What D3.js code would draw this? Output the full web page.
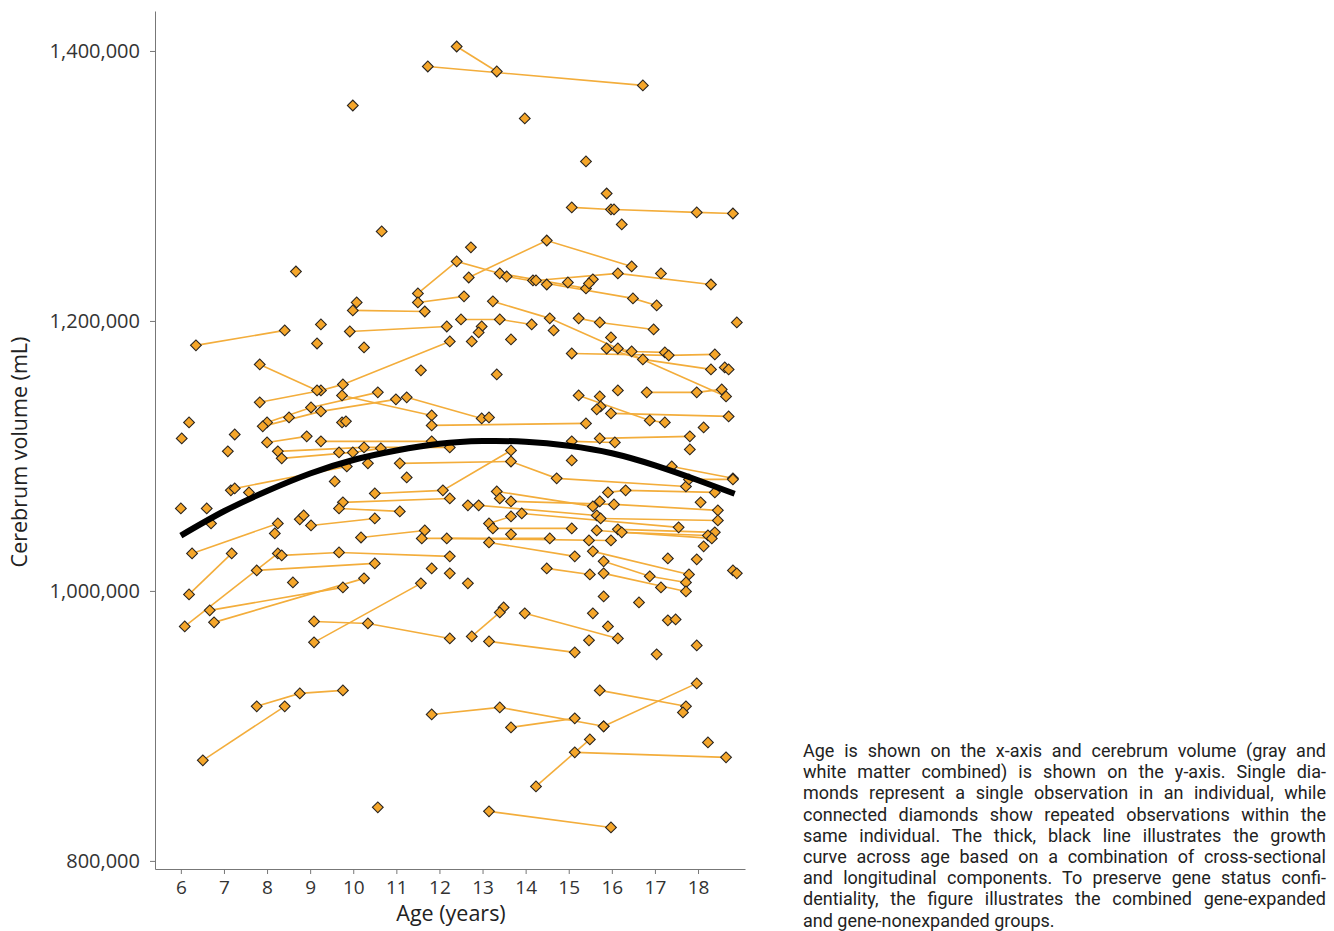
<!DOCTYPE html>
<html>
<head>
<meta charset="utf-8">
<script src="https://cdnjs.cloudflare.com/ajax/libs/d3/7.8.5/d3.min.js"></script>
<style>
  body { margin: 0; background: #fff; }
  svg { display: block; font-family: "Open Sans", sans-serif; }
</style>
</head>
<body>
<svg id="chart" width="1334" height="931"></svg>
<script>
// axis ticks
var xTicks = [6, 7, 8, 9, 10, 11, 12, 13, 14, 15, 16, 17, 18];
var yTicks = [800000, 1000000, 1200000, 1400000];

// one entry per individual: ages (years) and cerebrum volumes
var subjectAges = [
  [11.73,16.72],[12.40,13.33],[9.99],[13.98],[15.40],[15.88],[15.07,15.98],[16.05,17.97,18.81],[16.23],[10.66],
  [8.67],[12.73],[12.68,14.49,16.46],[11.50,12.40,13.40,15.40],[13.56,16.49,17.04],[14.17],[14.24,16.14,18.30],[14.49],[14.98],[15.56],
  [15.47],[17.14],[11.50,12.57],[10.08],[9.99,11.66],[9.25],[6.35,8.41],[9.92,12.17],[12.50,13.40,14.14],[15.23,15.72,16.97],
  [13.24,14.56,18.65],[14.65],[12.98],[12.91],[12.75],[13.66],[18.90],[7.83,9.25,9.76,12.24],[7.83,9.16],[9.16],
  [10.25],[11.57],[9.74,11.82],[8.00,9.02,10.57],[7.90,9.25,10.99],[11.24,12.98],[13.15],[6.19],[6.02],[7.25],
  [7.09],[8.51],[9.74],[9.83],[11.82,15.40],[8.00,8.92],[9.25,11.82],[8.25,10.25,12.24],[8.34,9.99,10.64],[9.67],
  [7.16],[7.25,9.85],[10.34],[11.08,13.66,14.72,17.72],[9.57],[11.24],[15.98],[15.88,16.72,18.30],[16.14,16.46,17.23],[15.07,17.32,18.39],
  [18.62],[18.71],[13.33],[16.14],[16.81,17.97,18.55],[15.23,16.88,17.23],[15.72],[15.74],[15.65],[15.98,18.71],
  [18.13],[15.72,17.81],[15.07,16.07],[17.81],[9.02,10.50],[15.07],[17.39,18.81],[17.79,18.81],[13.33,15.56],[13.66,16.05,18.46],
  [9.76,12.24],[12.66],[12.91,15.65],[15.91,16.32,18.39],[18.06],[15.74,18.46],[13.15,13.66],[13.91,17.55],[13.24,15.07],[16.14,18.39],
  [16.23,18.23],[15.65,18.32],[18.13],[10.18,11.66],[11.59,14.56],[12.17,15.98],[13.15,15.14],[13.66],[15.47],[15.56,17.79],
  [15.81,16.88,17.72],[14.49,15.49],[15.81,17.72],[12.24],[12.66],[17.30],[17.97],[17.14],[18.81],[18.90],
  [15.81],[16.63],[15.56],[17.30],[17.48],[13.98,16.14],[13.49],[12.75,13.40],[9.09,10.34,12.24],[13.15,15.14],
  [15.47],[17.04],[17.97],[15.72,17.72],[17.65],[15.81,17.97],[11.82,13.40,15.81],[13.66,15.14],[14.24,15.49],[15.14,18.65],
  [18.23],[13.15,15.98],[10.57],[7.76,8.76,9.76],[6.51,8.41],[7.58],[6.00],[6.60],[6.70],[10.50,12.08,13.66],
  [9.67,11.08],[8.76],[8.85],[6.26,8.25],[8.18],[6.19,7.18],[6.09,8.25],[7.76,10.50],[11.82],[8.34,9.67,12.24],
  [8.60],[6.67,9.76],[6.77,10.25],[9.09,11.57],[15.91],[15.72],[13.40]
];
var subjectVolumes = [
  [1388500,1374500],[1403300,1384800],[1359600],[1350000],[1318200],[1294400],[1284100,1282600],[1282600,1280400,1279600],[1271500],[1266300],
  [1236600],[1254500],[1232200,1259600,1240400],[1220400,1244100,1235200,1224100],[1232900,1216700,1211500],[1230000],[1230000,1235200,1227000],[1227000],[1228500],[1230800],
  [1227800],[1235200],[1213700,1218200],[1213700],[1207800,1207000],[1197400],[1181900,1193000],[1192200,1195900],[1201100,1201100,1197400],[1201900,1198900,1193700],
  [1214500,1201900,1144100],[1193000],[1195900],[1191500],[1184800],[1186300],[1198900],[1139700,1148500,1153000,1184800],[1167800,1148500],[1183300],
  [1180400],[1163400],[1144800,1130000],[1124800,1135900,1147100],[1121900,1133000,1141900],[1143400,1127800],[1128500],[1124800],[1113000],[1115900],
  [1103400],[1128500],[1124800],[1125600],[1122600,1124100],[1110000,1114500],[1110800,1110800],[1103400,1106300,1106300],[1098200,1102600,1105600],[1102600],
  [1074500],[1075900,1092200],[1094500],[1094500,1095900,1083400,1077400],[1081100],[1084100],[1187800],[1179600,1171500,1164100],[1179600,1177400,1176700],[1175900,1174500,1175200],
  [1165600],[1164100],[1160400],[1148500],[1147100,1147100,1149300],[1144800,1126300,1124800],[1144100],[1136700],[1134500],[1131500,1129300],
  [1121100],[1113000,1114500],[1110800,1110000],[1104800],[1048500,1053700],[1096700],[1092200,1083400],[1082600,1082600],[1073700,1062600],[1066300,1064100,1059700],
  [1065600,1068500],[1063400],[1063400,1055900],[1073000,1074500,1073000],[1065600],[1053700,1052200],[1050000,1055200],[1057400,1047100],[1046300,1046300],[1045600,1043400],
  [1043400,1041100],[1044800,1038900],[1033000],[1039600,1044800],[1038900,1038900],[1038900,1037400],[1035900,1025600],[1041900],[1037400],[1029300,1012200],
  [1021900,1010800,1006300],[1016700,1012200],[1013000,999600],[1013000],[1005600],[1024100],[1023400],[1002600],[1015200],[1013000],
  [995900],[991500],[983400],[978200],[978900],[983400,964800],[987800],[966300,984100],[977400,975900,964800],[962600,954500],
  [963400],[953000],[959600],[926300,914500],[910000],[899700,931500],[908500,913700,899700],[898900,905600],[855200,890000],[880400,876700],
  [887800],[836700,824800],[839700],[914500,924100,926300],[874500,914500],[1073000],[1061100],[1061100],[1050000],[1072200,1074500,1104100],
  [1061100,1058900],[1053000],[1055900],[1027800,1050000],[1042600],[997400,1027800],[973700,1027800],[1015200,1020400],[1016700],[1026300,1028500,1025600],
  [1006300],[985600,1002600],[976700,1009300],[961900,1005600],[973700],[1066300],[1068500]
];

// growth curve
var curveAges = [6, 7, 8, 9, 10, 11, 12, 13, 14, 15, 16, 17, 18, 18.85];
var curveVolumes = [1041000, 1059000, 1074000, 1087000, 1097000, 1104000, 1109000, 1111000, 1110500, 1107500, 1102000, 1093000, 1082000, 1072000];

var captionLines = [
  "Age is shown on the x-axis and cerebrum volume (gray and",
  "white matter combined) is shown on the y-axis. Single dia-",
  "monds represent a single observation in an individual, while",
  "connected diamonds show repeated observations within the",
  "same individual. The thick, black line illustrates the growth",
  "curve across age based on a combination of cross-sectional",
  "and longitudinal components. To preserve gene status confi-",
  "dentiality, the figure illustrates the combined gene-expanded",
  "and gene-nonexpanded groups."
];

var svg = d3.select("#chart");

var x = d3.scaleLinear().domain([5.4, 19.09]).range([155, 745]);
var y = d3.scaleLinear().domain([794000, 1429600]).range([869, 11]);

var subjects = subjectAges.map(function(a, i) {
  return a.map(function(age, j) { return { age: age, vol: subjectVolumes[i][j] }; });
});

// connecting lines for repeated observations
var link = d3.line().x(function(d) { return x(d.age); }).y(function(d) { return y(d.vol); });
svg.append("g")
  .selectAll("path")
  .data(subjects.filter(function(s) { return s.length > 1; }))
  .join("path")
  .attr("d", link)
  .attr("fill", "none")
  .attr("stroke", "#f3ad3b")
  .attr("stroke-width", 1.6);

// diamonds
svg.append("g")
  .selectAll("path")
  .data(subjects.flat())
  .join("path")
  .attr("d", d3.symbol(d3.symbolSquare, 58))
  .attr("transform", function(d) { return "translate(" + x(d.age) + "," + y(d.vol) + ") rotate(45)"; })
  .attr("fill", "#f5a62a")
  .attr("stroke", "#2a2520")
  .attr("stroke-width", 1.1);

// growth curve
var curvePts = curveAges.map(function(a, i) { return { age: a, vol: curveVolumes[i] }; });
svg.append("path")
  .datum(curvePts)
  .attr("d", d3.line().curve(d3.curveNatural).x(function(d) { return x(d.age); }).y(function(d) { return y(d.vol); }))
  .attr("fill", "none")
  .attr("stroke", "#000")
  .attr("stroke-width", 6);

// axes
var gx = svg.append("g")
  .attr("transform", "translate(0,869)")
  .call(d3.axisBottom(x).tickValues(xTicks).tickSize(5).tickSizeOuter(0).tickPadding(7));
var gy = svg.append("g")
  .attr("transform", "translate(155,0)")
  .call(d3.axisLeft(y).tickValues(yTicks).tickFormat(d3.format(",")).tickSize(5).tickSizeOuter(0).tickPadding(10));

gx.attr("font-family", "Open Sans").attr("font-size", 19);
gy.attr("font-family", "Open Sans").attr("font-size", 20);
[gx, gy].forEach(function(g) {
  g.select(".domain").attr("stroke", "#777");
  g.selectAll(".tick line").attr("stroke", "#777");
  g.selectAll(".tick text").attr("fill", "#333");
});

svg.append("text")
  .attr("x", 451).attr("y", 921)
  .attr("text-anchor", "middle")
  .attr("font-size", 21.5)
  .attr("fill", "#222")
  .text("Age (years)");

svg.append("text")
  .attr("transform", "translate(27,452) rotate(-90)")
  .attr("text-anchor", "middle")
  .attr("font-size", 21.5)
  .attr("fill", "#222")
  .text("Cerebrum volume (mL)");

// justified caption, one text block with a tspan per line
var capW = 523;
var cap = svg.append("text")
  .attr("font-family", "Roboto")
  .attr("font-size", 18)
  .attr("fill", "#222");
captionLines.forEach(function(line, i) {
  var t = cap.append("tspan")
    .attr("x", 803)
    .attr("y", 757 + i * 21.2)
    .text(line);
  if (i < captionLines.length - 1) {
    var w = t.node().getComputedTextLength();
    var spaces = line.split(" ").length - 1;
    t.attr("word-spacing", (capW - w) / spaces);
  }
});
</script>
</body>
</html>
